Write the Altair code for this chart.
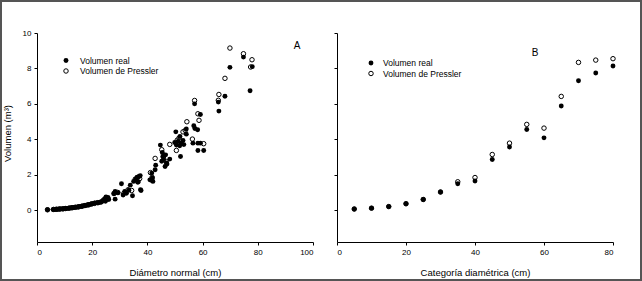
import altair as alt
import pandas as pd

# ---- Panel A: individual trees ----
real_x = [3.8, 5.8, 6.3, 6.8, 7.2, 7.6, 8.0, 8.4, 8.8, 9.2, 9.7, 10.2, 10.6, 11.1, 11.5, 12.0,
          12.4, 12.9, 13.3, 13.8, 14.3, 14.8, 15.2, 15.7, 16.1, 16.6, 17.1, 17.5, 18.0, 18.4,
          18.9, 19.4, 19.9, 20.5, 21.0, 21.6, 22.2, 22.8, 23.4,
          24.0, 24.5, 24.8, 25.3, 25.7, 26.0, 25.0,
          27.8, 28.3, 28.3, 29.4, 30.6, 31.2, 31.8, 32.4, 33.3, 33.8, 34.6,
          35.0, 35.8, 36.2, 36.7, 37.0, 36.5, 37.4, 37.7, 37.5,
          40.9, 41.6, 41.6, 41.8, 42.8, 43.0, 42.0,
          44.7, 45.4, 45.6, 45.9, 46.4, 46.9, 45.2, 47.1, 46.6, 48.1,
          49.9, 50.5, 51.1, 51.7, 52.3, 50.3, 51.8, 52.0, 53.2, 54.1, 52.9,
          54.1, 56.8, 57.2, 58.2, 57.1, 59.2, 56.5, 58.3, 59.2, 58.3, 60.4,
          65.9, 65.7, 68.1, 69.9, 74.8, 78.0, 77.2]
real_y = [0.02, 0.03, 0.04, 0.04, 0.05, 0.05, 0.06, 0.06, 0.07, 0.07, 0.08, 0.09, 0.10, 0.10, 0.11, 0.12,
          0.13, 0.14, 0.15, 0.16, 0.17, 0.18, 0.19, 0.21, 0.22, 0.23, 0.25, 0.26, 0.28, 0.30,
          0.32, 0.34, 0.36, 0.38, 0.40, 0.41, 0.42, 0.44, 0.47,
          0.55, 0.62, 0.50, 0.68, 0.72, 0.60, 0.75,
          0.92, 1.05, 0.62, 0.98, 1.49, 0.85, 1.06, 0.95, 1.12, 1.41, 0.81,
          1.62, 1.75, 1.84, 1.60, 1.90, 1.57, 1.95, 1.11, 1.15,
          1.71, 1.67, 2.09, 1.82, 2.28, 2.54, 1.62,
          3.67, 3.25, 3.03, 2.85, 2.46, 2.66, 2.76, 2.60, 3.12, 2.88,
          3.82, 3.68, 3.87, 3.63, 3.78, 4.42, 4.16, 3.03, 3.70, 4.29, 3.93,
          4.58, 4.76, 4.61, 4.54, 6.00, 5.40, 3.78, 3.78, 3.78, 3.37, 3.37,
          5.59, 6.10, 6.43, 8.06, 8.64, 8.10, 6.74]

pres_x = [3.8, 6.0, 7.0, 8.2, 9.4, 10.4, 11.6, 12.7, 13.9, 15.0, 16.3, 17.4, 18.6, 19.7,
          20.8, 22.0, 23.2, 24.2, 25.0, 25.6, 28.0, 29.2, 31.5, 33.0, 34.3,
          35.6, 36.4, 37.2, 41.1, 41.7, 42.8, 45.2, 45.8, 46.8, 48.1, 50.5, 50.8, 51.5,
          52.9, 53.7, 54.3, 56.3, 60.4, 57.1, 58.3, 58.7, 65.7, 65.9, 68.1, 69.9,
          74.8, 77.9, 77.4]
pres_y = [0.02, 0.04, 0.05, 0.06, 0.07, 0.09, 0.11, 0.13, 0.16, 0.18, 0.22, 0.26, 0.29, 0.34,
          0.38, 0.42, 0.46, 0.58, 0.70, 0.66, 0.95, 1.00, 0.95, 1.15, 1.11,
          1.75, 1.85, 1.78, 2.12, 1.85, 2.92, 3.41, 3.00, 2.75, 3.71, 3.37, 3.95, 4.08,
          4.42, 4.50, 4.99, 4.01, 3.75, 6.19, 5.44, 5.07, 6.20, 6.53, 7.44, 9.15,
          8.83, 8.49, 8.08]

# ---- Panel B: diameter classes ----
cat_x = [5, 10, 15, 20, 25, 30, 35, 40, 45, 50, 55, 60, 65, 70, 75, 80]
cat_real = [0.06, 0.11, 0.20, 0.36, 0.60, 1.02, 1.49, 1.64, 2.86, 3.56, 4.55, 4.08, 5.88, 7.30, 7.74, 8.14]
cat_pres = [0.06, 0.11, 0.20, 0.36, 0.60, 1.02, 1.60, 1.84, 3.14, 3.78, 4.84, 4.63, 6.42, 8.34, 8.47, 8.55]

legend_labels = ["Volumen real", "Volumen de Pressler"]
panel_labels = ["A", "B"]
y_ticks = [0, 2, 4, 6, 8, 10]

FONT = "Liberation Sans"
W, H = 276, 209
YDOM = [-1.8, 10]

dfA_real = pd.DataFrame({"x": real_x, "y": real_y})
dfA_pres = pd.DataFrame({"x": pres_x, "y": pres_y})
dfB = pd.DataFrame({"x": cat_x, "real": cat_real, "pres": cat_pres})
one = pd.DataFrame({"k": [0]})


def legend_layers(sx, sy, tx):
    lf = pd.DataFrame({"label": [legend_labels[0]]})
    lo = pd.DataFrame({"label": [legend_labels[1]]})
    p1 = alt.Chart(lf).mark_point(filled=True, color="black", size=24, opacity=1).encode(
        x=alt.value(sx), y=alt.value(sy))
    p2 = alt.Chart(lo).mark_point(filled=False, color="black", size=20, strokeWidth=1, opacity=1).encode(
        x=alt.value(sx), y=alt.value(sy + 10.5))
    t1 = alt.Chart(lf).mark_text(align="left", baseline="middle", font=FONT, fontSize=8.5, color="black").encode(
        x=alt.value(tx), y=alt.value(sy), text="label:N")
    t2 = alt.Chart(lo).mark_text(align="left", baseline="middle", font=FONT, fontSize=8.5, color="black").encode(
        x=alt.value(tx), y=alt.value(sy + 10.5), text="label:N")
    return [p1, p2, t1, t2]


# Panel A
xA = alt.X("x:Q", scale=alt.Scale(domain=[0, 100], nice=False, zero=False),
           axis=alt.Axis(values=[0, 20, 40, 60, 80, 100], title="Diámetro normal (cm)",
                         titleY=30, titleBaseline="middle"))
yA = alt.Y("y:Q", scale=alt.Scale(domain=YDOM, nice=False, zero=False),
           axis=alt.Axis(values=y_ticks, title="Volumen (m³)", titleX=-30, titleY=100,
                         titleAngle=-90, titleBaseline="middle", titleAlign="center"))

presA = alt.Chart(dfA_pres).mark_point(filled=False, color="black", size=20, strokeWidth=1, opacity=1).encode(x=xA, y=yA)
realA = alt.Chart(dfA_real).mark_point(filled=True, color="black", size=24, opacity=1).encode(x=xA, y=yA)
labA = alt.Chart(pd.DataFrame({"t": [panel_labels[0]]})).mark_text(
    font=FONT, fontSize=10, color="black", baseline="middle", align="center").encode(
    x=alt.value(260), y=alt.value(13), text="t:N")
border = alt.Chart(one).mark_rect(fill="transparent", stroke="#555555", strokeWidth=2).encode(
    x=alt.value(-36), x2=alt.value(604), y=alt.value(-32), y2=alt.value(247))

panelA = alt.layer(presA, realA, labA, *legend_layers(29, 27.5, 43), border).properties(width=W, height=H)

# Panel B
xB = alt.X("x:Q", scale=alt.Scale(domain=[0, 80], nice=False, zero=False),
           axis=alt.Axis(values=[0, 20, 40, 60, 80], title="Categoría diamétrica (cm)",
                         titleY=30, titleBaseline="middle"))
yB_p = alt.Y("pres:Q", scale=alt.Scale(domain=YDOM, nice=False, zero=False),
             axis=alt.Axis(values=y_ticks, labels=False, title=None))
yB_r = alt.Y("real:Q", scale=alt.Scale(domain=YDOM, nice=False, zero=False),
             axis=alt.Axis(values=y_ticks, labels=False, title=None))

presB = alt.Chart(dfB).mark_point(filled=False, color="black", size=20, strokeWidth=1, opacity=1).encode(x=xB, y=yB_p)
realB = alt.Chart(dfB).mark_point(filled=True, color="black", size=24, opacity=1).encode(x=xB, y=yB_r)
labB = alt.Chart(pd.DataFrame({"t": [panel_labels[1]]})).mark_text(
    font=FONT, fontSize=10, color="black", baseline="middle", align="center").encode(
    x=alt.value(198), y=alt.value(20), text="t:N")

panelB = alt.layer(presB, realB, labB, *legend_layers(34, 30, 46)).properties(width=W, height=H)

chart = alt.hconcat(panelA, panelB, spacing=24, bounds="flush").properties(
    padding=0,
    background="white",
).configure_view(strokeWidth=0).configure_axis(
    domainColor="black", tickColor="black", labelColor="black", titleColor="black",
    grid=False, tickSize=3, labelFont=FONT, titleFont=FONT, labelFontSize=8,
    titleFontSize=9.5, titleFontWeight="normal", labelPadding=3, domainWidth=1, tickWidth=1,
)

chart.save("out.html", embed_options={"renderer": "svg", "actions": False})
